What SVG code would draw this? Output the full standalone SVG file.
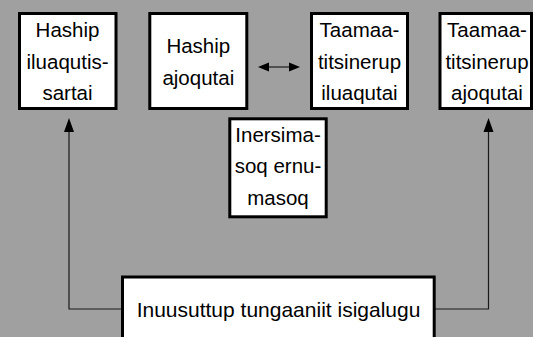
<svg xmlns="http://www.w3.org/2000/svg" width="533" height="337" viewBox="0 0 533 337">
<style>
.box{fill:#fff;stroke:#000;stroke-width:3}
.t{font-family:"Liberation Sans",Arial,sans-serif;font-size:20.5px;fill:#000;text-anchor:middle}
.c{fill:none;stroke:#1a1a1a;stroke-width:1.2}
.h{fill:#000;stroke:none}
</style>
<rect x="0" y="0" width="533" height="337" fill="#a0a0a0"/>
<g id="connectors">
<polyline class="c" points="122,309 69,309 69,130"/>
<polygon class="h" points="69,118 64,132 74,132"/>
<polyline class="c" points="435,309 488.5,309 488.5,130"/>
<polygon class="h" points="488.5,118 483.5,132 493.5,132"/>
<line class="c" x1="266" y1="67" x2="292" y2="67"/>
<polygon class="h" points="258,67 269,62.5 269,71.5"/>
<polygon class="h" points="300,67 289,62.5 289,71.5"/>
</g>
<g id="n1">
<rect class="box" x="19.5" y="13.5" width="96.5" height="95"/>
<text class="t" x="67.5" y="37.3">Haship</text>
<text class="t" x="67.5" y="68.5">iluaqutis-</text>
<text class="t" x="67.5" y="100">sartai</text>
</g>
<g id="n2">
<rect class="box" x="149.8" y="13.5" width="97" height="95"/>
<text class="t" x="198.3" y="53.3">Haship</text>
<text class="t" x="198.3" y="84.5">ajoqutai</text>
</g>
<g id="n3">
<rect class="box" x="311.5" y="13.5" width="96" height="95"/>
<text class="t" x="359.5" y="37">Taamaa-</text>
<text class="t" x="359.5" y="68.5">titsinerup</text>
<text class="t" x="359.5" y="100">iluaqutai</text>
</g>
<g id="n4">
<rect class="box" x="440" y="13.5" width="91.5" height="95"/>
<text class="t" x="487" y="37">Taamaa-</text>
<text class="t" x="487" y="68.5">titsinerup</text>
<text class="t" x="487" y="100">ajoqutai</text>
</g>
<g id="n5">
<rect class="box" x="229.8" y="118.8" width="96.4" height="98"/>
<text class="t" x="278" y="141.7">Inersima-</text>
<text class="t" x="278" y="173.3">soq ernu-</text>
<text class="t" x="278" y="205">masoq</text>
</g>
<g id="n6">
<rect class="box" x="122.5" y="277" width="311.7" height="70"/>
<text class="t" x="278.5" y="316.7" style="font-size:21px">Inuusuttup tungaaniit isigalugu</text>
</g>
</svg>
